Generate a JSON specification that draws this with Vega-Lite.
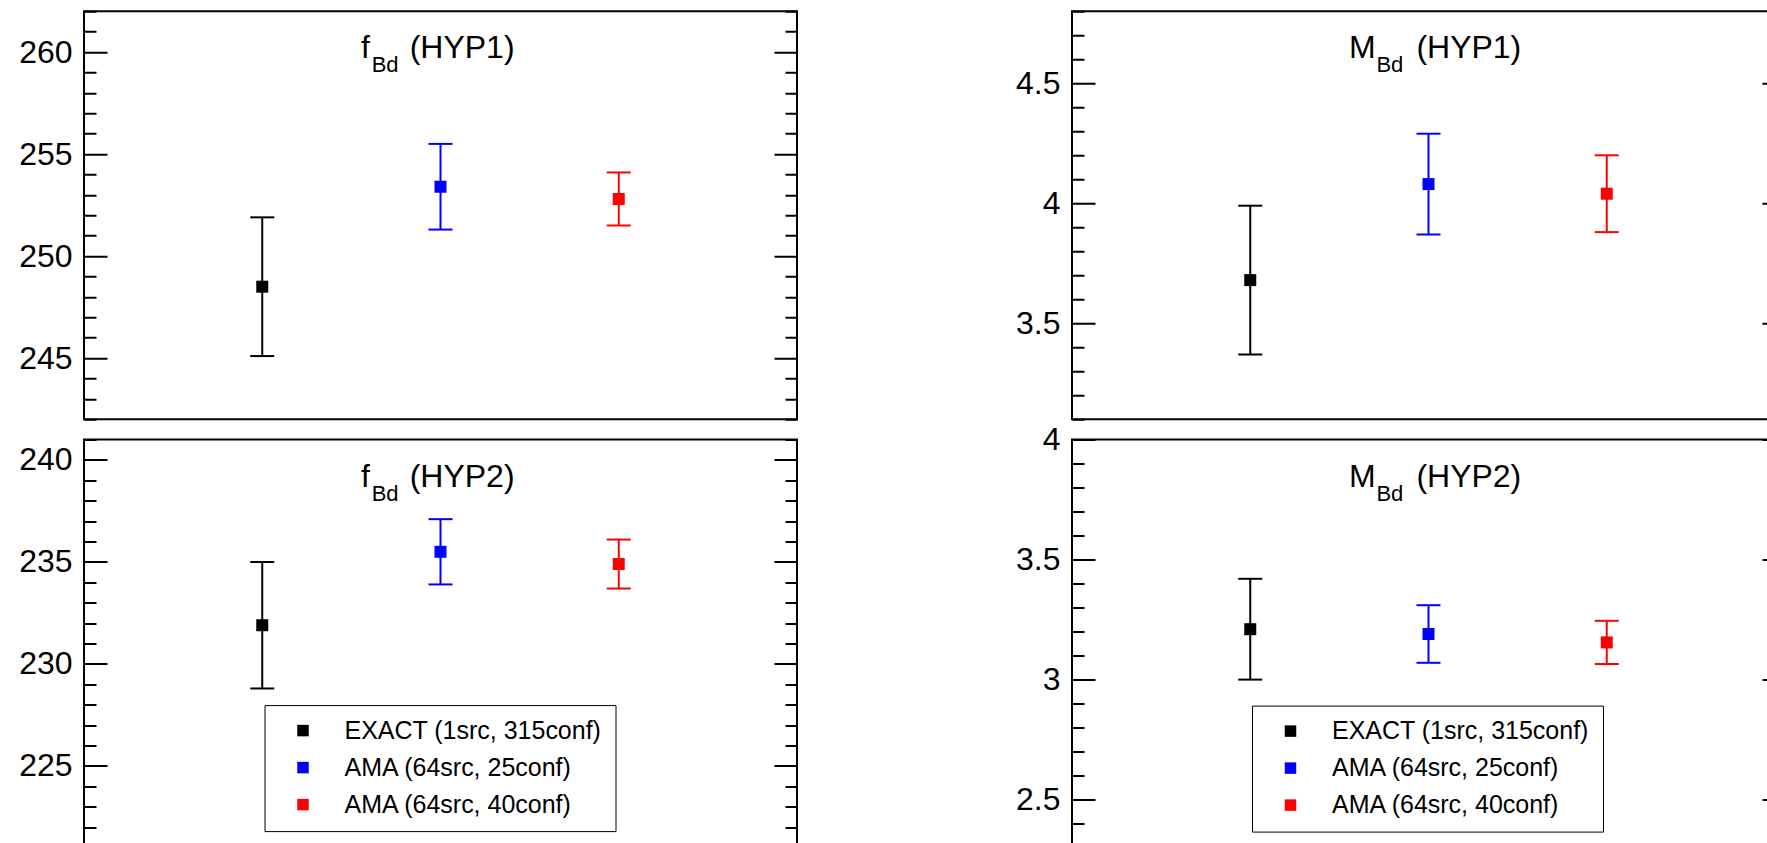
{
  "$schema": "https://vega.github.io/schema/vega-lite/v6.json",
  "autosize": {"type": "pad"},
  "padding": {"left": 17, "top": 10.3, "right": 0, "bottom": 0},
  "background": "white",
  "config": {
    "view": {"stroke": "black", "strokeWidth": 2},
    "font": "Liberation Sans"
  },
  "datasets": {
    "pts": [
      {"panel": "fHYP1", "series": "EXACT (1src, 315conf)", "value": 248.5, "lo": 245.1, "hi": 251.9},
      {"panel": "fHYP1", "series": "AMA (64src, 25conf)", "value": 253.4, "lo": 251.3, "hi": 255.5},
      {"panel": "fHYP1", "series": "AMA (64src, 40conf)", "value": 252.8, "lo": 251.5, "hi": 254.1},
      {"panel": "fHYP2", "series": "EXACT (1src, 315conf)", "value": 231.9, "lo": 228.8, "hi": 235.0},
      {"panel": "fHYP2", "series": "AMA (64src, 25conf)", "value": 235.5, "lo": 233.9, "hi": 237.1},
      {"panel": "fHYP2", "series": "AMA (64src, 40conf)", "value": 234.9, "lo": 233.7, "hi": 236.1},
      {"panel": "MHYP1", "series": "EXACT (1src, 315conf)", "value": 3.68, "lo": 3.37, "hi": 3.99},
      {"panel": "MHYP1", "series": "AMA (64src, 25conf)", "value": 4.08, "lo": 3.87, "hi": 4.29},
      {"panel": "MHYP1", "series": "AMA (64src, 40conf)", "value": 4.04, "lo": 3.88, "hi": 4.2},
      {"panel": "MHYP2", "series": "EXACT (1src, 315conf)", "value": 3.21, "lo": 3.0, "hi": 3.42},
      {"panel": "MHYP2", "series": "AMA (64src, 25conf)", "value": 3.19, "lo": 3.07, "hi": 3.31},
      {"panel": "MHYP2", "series": "AMA (64src, 40conf)", "value": 3.155, "lo": 3.065, "hi": 3.245}
    ],
    "titles": [
      {"panel": "fHYP1", "part": "pre", "t": "f"},
      {"panel": "fHYP1", "part": "sub", "t": "Bd"},
      {"panel": "fHYP1", "part": "hyp", "t": "(HYP1)"},
      {"panel": "fHYP2", "part": "pre", "t": "f"},
      {"panel": "fHYP2", "part": "sub", "t": "Bd"},
      {"panel": "fHYP2", "part": "hyp", "t": "(HYP2)"},
      {"panel": "MHYP1", "part": "pre", "t": "M"},
      {"panel": "MHYP1", "part": "sub", "t": "Bd"},
      {"panel": "MHYP1", "part": "hyp", "t": "(HYP1)"},
      {"panel": "MHYP2", "part": "pre", "t": "M"},
      {"panel": "MHYP2", "part": "sub", "t": "Bd"},
      {"panel": "MHYP2", "part": "hyp", "t": "(HYP2)"}
    ]
  },
  "columns": 2,
  "bounds": "flush",
  "spacing": {"row": 20.3, "column": 275},
  "resolve": {"legend": {"color": "independent"}},
  "concat": [
    {
      "width": 713, "height": 408,
      "layer": [
        {"data": {"name": "pts"}, "transform": [{"filter": "datum.panel === 'fHYP1'"}],
         "mark": {"type": "rule", "strokeWidth": 2},
         "encoding": {
           "x": {"field": "series", "type": "nominal", "scale": {"type": "point", "padding": 1, "domain": ["EXACT (1src, 315conf)", "AMA (64src, 25conf)", "AMA (64src, 40conf)"]}, "axis": null},
           "y": {"field": "lo", "type": "quantitative", "title": null, "scale": {"domain": [242, 262], "nice": false, "zero": false},
                 "axis": {"title": null, "domain": false, "ticks": false, "tickSize": 0, "tickCount": 100,
                          "values": [242,243,244,245,246,247,248,249,250,251,252,253,254,255,256,257,258,259,260,261,262],
                          "format": "~g", "labelExpr": "datum.value % 5 === 0 ? datum.label : ''",
                          "labelFont": "Liberation Sans", "labelColor": "black", "labelPadding": 12,
                          "labelFontSize": {"condition": {"test": "datum.value % 5 === 0", "value": 32}, "value": 0},
                          "labelOverlap": false, "labelBound": false, "labelFlush": false,
                          "grid": true, "gridColor": "black", "gridOpacity": 1, "gridWidth": 2,
                          "gridDash": {"condition": {"test": "datum.value % 5 === 0", "value": [23, 667, 23]}, "value": [12, 689, 12]}}},
           "y2": {"field": "hi"},
           "stroke": {"field": "series", "type": "nominal", "scale": {"domain": ["EXACT (1src, 315conf)", "AMA (64src, 25conf)", "AMA (64src, 40conf)"], "range": ["#000000", "#0000ff", "#ff0000"]}, "legend": null}
         }},
        {"data": {"name": "pts"}, "transform": [{"filter": "datum.panel === 'fHYP1'"}],
         "mark": {"type": "tick", "orient": "horizontal", "size": 24, "thickness": 2, "opacity": 1},
         "encoding": {
           "x": {"field": "series", "type": "nominal"},
           "y": {"field": "lo", "type": "quantitative", "title": null},
           "fill": {"field": "series", "type": "nominal", "scale": {"domain": ["EXACT (1src, 315conf)", "AMA (64src, 25conf)", "AMA (64src, 40conf)"], "range": ["#000000", "#0000ff", "#ff0000"]}, "legend": null}
         }},
        {"data": {"name": "pts"}, "transform": [{"filter": "datum.panel === 'fHYP1'"}],
         "mark": {"type": "tick", "orient": "horizontal", "size": 24, "thickness": 2, "opacity": 1},
         "encoding": {
           "x": {"field": "series", "type": "nominal"},
           "y": {"field": "hi", "type": "quantitative", "title": null},
           "fill": {"field": "series", "type": "nominal", "legend": null}
         }},
        {"data": {"name": "pts"}, "transform": [{"filter": "datum.panel === 'fHYP1'"}],
         "mark": {"type": "square", "size": 144, "opacity": 1, "filled": true, "strokeWidth": 0},
         "encoding": {
           "x": {"field": "series", "type": "nominal"},
           "y": {"field": "value", "type": "quantitative", "title": null},
           "color": {"field": "series", "type": "nominal", "scale": {"domain": ["EXACT (1src, 315conf)", "AMA (64src, 25conf)", "AMA (64src, 40conf)"], "range": ["#000000", "#0000ff", "#ff0000"]}, "legend": null}
         }},
        {"data": {"name": "titles"}, "transform": [{"filter": "datum.panel === 'fHYP1' && datum.part === 'pre'"}],
         "mark": {"type": "text", "font": "Liberation Sans", "fontSize": 32, "fill": "black", "align": "left", "baseline": "alphabetic", "dx": -79.5, "dy": 47},
         "encoding": {"x": {"datum": "AMA (64src, 25conf)"}, "y": {"datum": 262}, "text": {"field": "t"}}},
        {"data": {"name": "titles"}, "transform": [{"filter": "datum.panel === 'fHYP1' && datum.part === 'sub'"}],
         "mark": {"type": "text", "font": "Liberation Sans", "fontSize": 22, "fill": "black", "align": "left", "baseline": "alphabetic", "dx": -68.8, "dy": 61},
         "encoding": {"x": {"datum": "AMA (64src, 25conf)"}, "y": {"datum": 262}, "text": {"field": "t"}}},
        {"data": {"name": "titles"}, "transform": [{"filter": "datum.panel === 'fHYP1' && datum.part === 'hyp'"}],
         "mark": {"type": "text", "font": "Liberation Sans", "fontSize": 32, "fill": "black", "align": "left", "baseline": "alphabetic", "dx": -30.8, "dy": 47},
         "encoding": {"x": {"datum": "AMA (64src, 25conf)"}, "y": {"datum": 262}, "text": {"field": "t"}}}
      ]
    },
    {
      "width": 713, "height": 408,
      "layer": [
        {"data": {"name": "pts"}, "transform": [{"filter": "datum.panel === 'MHYP1'"}],
         "mark": {"type": "rule", "strokeWidth": 2},
         "encoding": {
           "x": {"field": "series", "type": "nominal", "scale": {"type": "point", "padding": 1, "domain": ["EXACT (1src, 315conf)", "AMA (64src, 25conf)", "AMA (64src, 40conf)"]}, "axis": null},
           "y": {"field": "lo", "type": "quantitative", "title": null, "scale": {"domain": [3.1, 4.8], "nice": false, "zero": false},
                 "axis": {"title": null, "domain": false, "ticks": false, "tickSize": 0, "tickCount": 100,
                          "values": [3.1,3.2,3.3,3.4,3.5,3.6,3.7,3.8,3.9,4.0,4.1,4.2,4.3,4.4,4.5,4.6,4.7,4.8],
                          "format": "~g", "labelExpr": "round(datum.value*10) % 5 === 0 ? datum.label : ''",
                          "labelFont": "Liberation Sans", "labelColor": "black", "labelPadding": 12,
                          "labelFontSize": {"condition": {"test": "round(datum.value*10) % 5 === 0", "value": 32}, "value": 0},
                          "labelOverlap": false, "labelBound": false, "labelFlush": false,
                          "grid": true, "gridColor": "black", "gridOpacity": 1, "gridWidth": 2,
                          "gridDash": {"condition": {"test": "round(datum.value*10) % 5 === 0", "value": [23, 667, 23]}, "value": [12, 689, 12]}}},
           "y2": {"field": "hi"},
           "stroke": {"field": "series", "type": "nominal", "legend": null}
         }},
        {"data": {"name": "pts"}, "transform": [{"filter": "datum.panel === 'MHYP1'"}],
         "mark": {"type": "tick", "orient": "horizontal", "size": 24, "thickness": 2, "opacity": 1},
         "encoding": {
           "x": {"field": "series", "type": "nominal"},
           "y": {"field": "lo", "type": "quantitative", "title": null},
           "fill": {"field": "series", "type": "nominal", "legend": null}
         }},
        {"data": {"name": "pts"}, "transform": [{"filter": "datum.panel === 'MHYP1'"}],
         "mark": {"type": "tick", "orient": "horizontal", "size": 24, "thickness": 2, "opacity": 1},
         "encoding": {
           "x": {"field": "series", "type": "nominal"},
           "y": {"field": "hi", "type": "quantitative", "title": null},
           "fill": {"field": "series", "type": "nominal", "legend": null}
         }},
        {"data": {"name": "pts"}, "transform": [{"filter": "datum.panel === 'MHYP1'"}],
         "mark": {"type": "square", "size": 144, "opacity": 1, "filled": true, "strokeWidth": 0},
         "encoding": {
           "x": {"field": "series", "type": "nominal"},
           "y": {"field": "value", "type": "quantitative", "title": null},
           "color": {"field": "series", "type": "nominal", "legend": null}
         }},
        {"data": {"name": "titles"}, "transform": [{"filter": "datum.panel === 'MHYP1' && datum.part === 'pre'"}],
         "mark": {"type": "text", "font": "Liberation Sans", "fontSize": 32, "fill": "black", "align": "left", "baseline": "alphabetic", "dx": -79.5, "dy": 47},
         "encoding": {"x": {"datum": "AMA (64src, 25conf)"}, "y": {"datum": 4.8}, "text": {"field": "t"}}},
        {"data": {"name": "titles"}, "transform": [{"filter": "datum.panel === 'MHYP1' && datum.part === 'sub'"}],
         "mark": {"type": "text", "font": "Liberation Sans", "fontSize": 22, "fill": "black", "align": "left", "baseline": "alphabetic", "dx": -52.1, "dy": 61},
         "encoding": {"x": {"datum": "AMA (64src, 25conf)"}, "y": {"datum": 4.8}, "text": {"field": "t"}}},
        {"data": {"name": "titles"}, "transform": [{"filter": "datum.panel === 'MHYP1' && datum.part === 'hyp'"}],
         "mark": {"type": "text", "font": "Liberation Sans", "fontSize": 32, "fill": "black", "align": "left", "baseline": "alphabetic", "dx": -12.1, "dy": 47},
         "encoding": {"x": {"datum": "AMA (64src, 25conf)"}, "y": {"datum": 4.8}, "text": {"field": "t"}}}
      ]
    },
    {
      "width": 713, "height": 408,
      "layer": [
        {"data": {"name": "pts"}, "transform": [{"filter": "datum.panel === 'fHYP2'"}],
         "mark": {"type": "rule", "strokeWidth": 2},
         "encoding": {
           "x": {"field": "series", "type": "nominal", "scale": {"type": "point", "padding": 1, "domain": ["EXACT (1src, 315conf)", "AMA (64src, 25conf)", "AMA (64src, 40conf)"]}, "axis": null},
           "y": {"field": "lo", "type": "quantitative", "title": null, "scale": {"domain": [221, 241], "nice": false, "zero": false},
                 "axis": {"title": null, "domain": false, "ticks": false, "tickSize": 0, "tickCount": 100,
                          "values": [221,222,223,224,225,226,227,228,229,230,231,232,233,234,235,236,237,238,239,240,241],
                          "format": "~g", "labelExpr": "datum.value % 5 === 0 ? datum.label : ''",
                          "labelFont": "Liberation Sans", "labelColor": "black", "labelPadding": 12,
                          "labelFontSize": {"condition": {"test": "datum.value % 5 === 0", "value": 32}, "value": 0},
                          "labelOverlap": false, "labelBound": false, "labelFlush": false,
                          "grid": true, "gridColor": "black", "gridOpacity": 1, "gridWidth": 2,
                          "gridDash": {"condition": {"test": "datum.value % 5 === 0", "value": [23, 667, 23]}, "value": [12, 689, 12]}}},
           "y2": {"field": "hi"},
           "stroke": {"field": "series", "type": "nominal", "legend": null}
         }},
        {"data": {"name": "pts"}, "transform": [{"filter": "datum.panel === 'fHYP2'"}],
         "mark": {"type": "tick", "orient": "horizontal", "size": 24, "thickness": 2, "opacity": 1},
         "encoding": {
           "x": {"field": "series", "type": "nominal"},
           "y": {"field": "lo", "type": "quantitative", "title": null},
           "fill": {"field": "series", "type": "nominal", "legend": null}
         }},
        {"data": {"name": "pts"}, "transform": [{"filter": "datum.panel === 'fHYP2'"}],
         "mark": {"type": "tick", "orient": "horizontal", "size": 24, "thickness": 2, "opacity": 1},
         "encoding": {
           "x": {"field": "series", "type": "nominal"},
           "y": {"field": "hi", "type": "quantitative", "title": null},
           "fill": {"field": "series", "type": "nominal", "legend": null}
         }},
        {"data": {"name": "pts"}, "transform": [{"filter": "datum.panel === 'fHYP2'"}],
         "mark": {"type": "square", "size": 144, "opacity": 1, "filled": true, "strokeWidth": 0},
         "encoding": {
           "x": {"field": "series", "type": "nominal"},
           "y": {"field": "value", "type": "quantitative", "title": null},
           "color": {"field": "series", "type": "nominal",
                     "legend": {"title": null, "orient": "none", "legendX": 180.5, "legendY": 265.5, "strokeColor": "black", "fillColor": "white", "padding": 13,
                                "symbolType": "square", "symbolSize": 132, "symbolStrokeWidth": 0, "symbolOffset": 13, "labelOffset": 29,
                                "labelFont": "Liberation Sans", "labelFontSize": 25, "labelColor": "black", "labelLimit": 500, "rowPadding": 11,
                                "encode": {"legend": {"update": {"strokeWidth": {"value": 2}}}}}}
         }},
        {"data": {"name": "titles"}, "transform": [{"filter": "datum.panel === 'fHYP2' && datum.part === 'pre'"}],
         "mark": {"type": "text", "font": "Liberation Sans", "fontSize": 32, "fill": "black", "align": "left", "baseline": "alphabetic", "dx": -79.5, "dy": 47},
         "encoding": {"x": {"datum": "AMA (64src, 25conf)"}, "y": {"datum": 241}, "text": {"field": "t"}}},
        {"data": {"name": "titles"}, "transform": [{"filter": "datum.panel === 'fHYP2' && datum.part === 'sub'"}],
         "mark": {"type": "text", "font": "Liberation Sans", "fontSize": 22, "fill": "black", "align": "left", "baseline": "alphabetic", "dx": -68.8, "dy": 61},
         "encoding": {"x": {"datum": "AMA (64src, 25conf)"}, "y": {"datum": 241}, "text": {"field": "t"}}},
        {"data": {"name": "titles"}, "transform": [{"filter": "datum.panel === 'fHYP2' && datum.part === 'hyp'"}],
         "mark": {"type": "text", "font": "Liberation Sans", "fontSize": 32, "fill": "black", "align": "left", "baseline": "alphabetic", "dx": -30.8, "dy": 47},
         "encoding": {"x": {"datum": "AMA (64src, 25conf)"}, "y": {"datum": 241}, "text": {"field": "t"}}}
      ]
    },
    {
      "width": 713, "height": 408,
      "layer": [
        {"data": {"name": "pts"}, "transform": [{"filter": "datum.panel === 'MHYP2'"}],
         "mark": {"type": "rule", "strokeWidth": 2},
         "encoding": {
           "x": {"field": "series", "type": "nominal", "scale": {"type": "point", "padding": 1, "domain": ["EXACT (1src, 315conf)", "AMA (64src, 25conf)", "AMA (64src, 40conf)"]}, "axis": null},
           "y": {"field": "lo", "type": "quantitative", "title": null, "scale": {"domain": [2.3, 4.0], "nice": false, "zero": false},
                 "axis": {"title": null, "domain": false, "ticks": false, "tickSize": 0, "tickCount": 100,
                          "values": [2.3,2.4,2.5,2.6,2.7,2.8,2.9,3.0,3.1,3.2,3.3,3.4,3.5,3.6,3.7,3.8,3.9,4.0],
                          "format": "~g", "labelExpr": "round(datum.value*10) % 5 === 0 ? datum.label : ''",
                          "labelFont": "Liberation Sans", "labelColor": "black", "labelPadding": 12,
                          "labelFontSize": {"condition": {"test": "round(datum.value*10) % 5 === 0", "value": 32}, "value": 0},
                          "labelOverlap": false, "labelBound": false, "labelFlush": false,
                          "grid": true, "gridColor": "black", "gridOpacity": 1, "gridWidth": 2,
                          "gridDash": {"condition": {"test": "round(datum.value*10) % 5 === 0", "value": [23, 667, 23]}, "value": [12, 689, 12]}}},
           "y2": {"field": "hi"},
           "stroke": {"field": "series", "type": "nominal", "legend": null}
         }},
        {"data": {"name": "pts"}, "transform": [{"filter": "datum.panel === 'MHYP2'"}],
         "mark": {"type": "tick", "orient": "horizontal", "size": 24, "thickness": 2, "opacity": 1},
         "encoding": {
           "x": {"field": "series", "type": "nominal"},
           "y": {"field": "lo", "type": "quantitative", "title": null},
           "fill": {"field": "series", "type": "nominal", "legend": null}
         }},
        {"data": {"name": "pts"}, "transform": [{"filter": "datum.panel === 'MHYP2'"}],
         "mark": {"type": "tick", "orient": "horizontal", "size": 24, "thickness": 2, "opacity": 1},
         "encoding": {
           "x": {"field": "series", "type": "nominal"},
           "y": {"field": "hi", "type": "quantitative", "title": null},
           "fill": {"field": "series", "type": "nominal", "legend": null}
         }},
        {"data": {"name": "pts"}, "transform": [{"filter": "datum.panel === 'MHYP2'"}],
         "mark": {"type": "square", "size": 144, "opacity": 1, "filled": true, "strokeWidth": 0},
         "encoding": {
           "x": {"field": "series", "type": "nominal"},
           "y": {"field": "value", "type": "quantitative", "title": null},
           "color": {"field": "series", "type": "nominal",
                     "legend": {"title": null, "orient": "none", "legendX": 180, "legendY": 266, "strokeColor": "black", "fillColor": "white", "padding": 13,
                                "symbolType": "square", "symbolSize": 132, "symbolStrokeWidth": 0, "symbolOffset": 13, "labelOffset": 29,
                                "labelFont": "Liberation Sans", "labelFontSize": 25, "labelColor": "black", "labelLimit": 500, "rowPadding": 11,
                                "encode": {"legend": {"update": {"strokeWidth": {"value": 2}}}}}}
         }},
        {"data": {"name": "titles"}, "transform": [{"filter": "datum.panel === 'MHYP2' && datum.part === 'pre'"}],
         "mark": {"type": "text", "font": "Liberation Sans", "fontSize": 32, "fill": "black", "align": "left", "baseline": "alphabetic", "dx": -79.5, "dy": 47},
         "encoding": {"x": {"datum": "AMA (64src, 25conf)"}, "y": {"datum": 4.0}, "text": {"field": "t"}}},
        {"data": {"name": "titles"}, "transform": [{"filter": "datum.panel === 'MHYP2' && datum.part === 'sub'"}],
         "mark": {"type": "text", "font": "Liberation Sans", "fontSize": 22, "fill": "black", "align": "left", "baseline": "alphabetic", "dx": -52.1, "dy": 61},
         "encoding": {"x": {"datum": "AMA (64src, 25conf)"}, "y": {"datum": 4.0}, "text": {"field": "t"}}},
        {"data": {"name": "titles"}, "transform": [{"filter": "datum.panel === 'MHYP2' && datum.part === 'hyp'"}],
         "mark": {"type": "text", "font": "Liberation Sans", "fontSize": 32, "fill": "black", "align": "left", "baseline": "alphabetic", "dx": -12.1, "dy": 47},
         "encoding": {"x": {"datum": "AMA (64src, 25conf)"}, "y": {"datum": 4.0}, "text": {"field": "t"}}}
      ]
    }
  ]
}
